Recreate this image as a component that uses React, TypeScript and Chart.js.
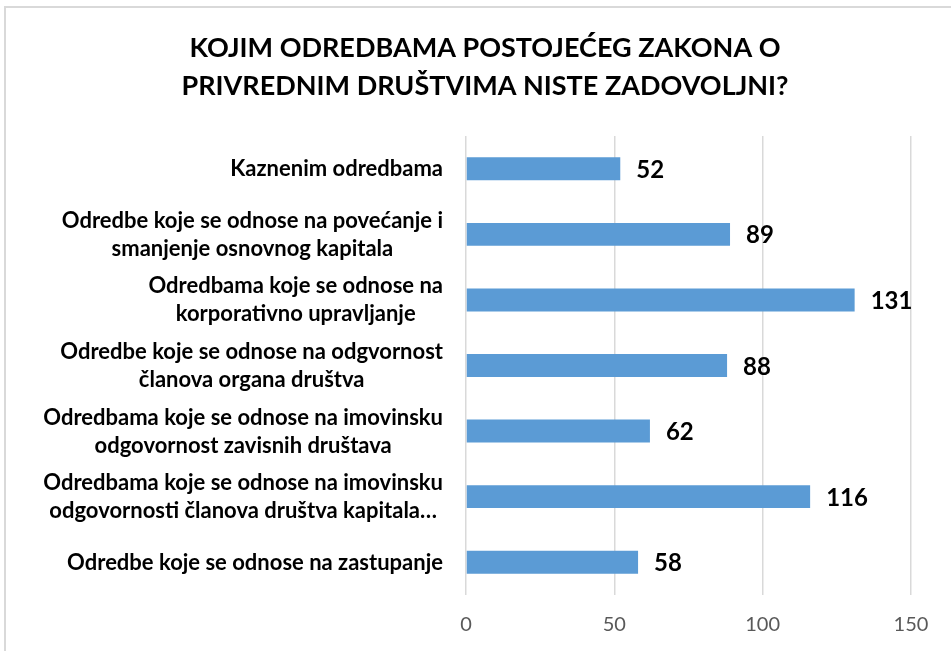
import React, { useEffect, useRef } from "react";
import { Chart, registerables } from "chart.js";

Chart.register(...registerables);

const titleLines: string[] = [
  "KOJIM ODREDBAMA POSTOJEĆEG ZAKONA O",
  "PRIVREDNIM DRUŠTVIMA NISTE ZADOVOLJNI?",
];

const categories: string[][] = [
  ["Kaznenim odredbama"],
  ["Odredbe koje se odnose na povećanje i", "smanjenje osnovnog kapitala"],
  ["Odredbama koje se odnose na", "korporativno upravljanje"],
  ["Odredbe koje se odnose na odgvornost", "članova organa društva"],
  ["Odredbama koje se odnose na imovinsku", "odgovornost zavisnih društava"],
  ["Odredbama koje se odnose na imovinsku", "odgovornosti članova društva kapitala…"],
  ["Odredbe koje se odnose na zastupanje"],
];

const values: number[] = [52, 89, 131, 88, 62, 116, 58];

const xTicks: number[] = [0, 50, 100, 150];

const FONT = "Lato, 'Open Sans', sans-serif";

const titlePlugin = {
  id: "customTitle",
  afterDraw(chart: any) {
    const ctx = chart.ctx;
    ctx.save();
    ctx.font = `bold 27px ${FONT}`;
    ctx.fillStyle = "#000000";
    ctx.textAlign = "center";
    ctx.textBaseline = "alphabetic";
    titleLines.forEach((line, i) => {
      ctx.fillText(line, 485, 57 + i * 38.3);
    });
    ctx.restore();
  },
};

const categoryLabelPlugin = {
  id: "categoryLabels",
  afterDraw(chart: any) {
    const ctx = chart.ctx;
    const yScale = chart.scales.y;
    const right = chart.chartArea.left - 23;
    const lineH = 28;
    ctx.save();
    ctx.font = `bold 22px ${FONT}`;
    ctx.fillStyle = "#000000";
    ctx.textAlign = "center";
    ctx.textBaseline = "alphabetic";
    categories.forEach((lines, i) => {
      const cy = yScale.getPixelForValue(i);
      const w = Math.max(...lines.map((l) => ctx.measureText(l).width));
      const cx = right - w / 2;
      lines.forEach((l, j) => {
        ctx.fillText(l, cx, cy + 7.5 + (j - (lines.length - 1) / 2) * lineH);
      });
    });
    ctx.restore();
  },
};

const valueLabelPlugin = {
  id: "valueLabels",
  afterDatasetsDraw(chart: any) {
    const ctx = chart.ctx;
    const meta = chart.getDatasetMeta(0);
    ctx.save();
    ctx.font = `bold 24px ${FONT}`;
    ctx.fillStyle = "#000000";
    ctx.textAlign = "left";
    ctx.textBaseline = "alphabetic";
    meta.data.forEach((bar: any, i: number) => {
      ctx.fillText(String(values[i]), bar.x + 16, bar.y + 9);
    });
    ctx.restore();
  },
};

export default function App() {
  const canvasRef = useRef<HTMLCanvasElement | null>(null);

  useEffect(() => {
    let chart: Chart | null = null;
    let cancelled = false;
    const make = () => {
      if (cancelled || !canvasRef.current) return;
      chart = new Chart(canvasRef.current, {
        type: "bar",
        data: {
          labels: categories.map((c) => c.join(" ")),
          datasets: [
            {
              data: values,
              backgroundColor: "#5b9bd5",
              borderWidth: 0,
              barPercentage: 0.35,
              categoryPercentage: 1,
            },
          ],
        },
        options: {
          indexAxis: "y",
          responsive: false,
          animation: false,
          devicePixelRatio: 1,
          layout: { padding: { left: 466, right: 40, top: 136, bottom: 14 } },
          plugins: {
            legend: { display: false },
            title: { display: false },
            tooltip: { enabled: false },
          },
          scales: {
            y: {
              display: false,
            },
            x: {
              min: xTicks[0],
              max: xTicks[xTicks.length - 1],
              afterBuildTicks: (scale: any) => {
                scale.ticks = xTicks.map((v) => ({ value: v }));
              },
              afterFit: (scale: any) => {
                scale.height = 42;
              },
              grid: {
                color: "#d9d9d9",
                lineWidth: 1.5,
                drawTicks: false,
              },
              border: { display: false },
              ticks: {
                color: "#595959",
                font: { family: FONT, size: 20 },
                padding: 18,
              },
            },
          },
        },
        plugins: [titlePlugin, categoryLabelPlugin, valueLabelPlugin],
      });
    };
    const fontsReady = (document as any).fonts
      ? Promise.all([
          (document as any).fonts.load(`bold 26px Lato`),
          (document as any).fonts.load(`20px Lato`),
        ]).catch(() => null)
      : Promise.resolve(null);
    fontsReady.then(make);
    return () => {
      cancelled = true;
      if (chart) chart.destroy();
    };
  }, []);

  return (
    <div
      style={{
        position: "fixed",
        left: 0,
        top: 0,
        width: 951,
        height: 651,
        overflow: "hidden",
        background: "#ffffff",
      }}
    >
      <div
        style={{
          position: "absolute",
          left: 4,
          top: 6,
          width: 1000,
          height: 700,
          border: "2px solid #d9d9d9",
        }}
      />
      <canvas
        ref={canvasRef}
        width={951}
        height={651}
        style={{ position: "absolute", left: 0, top: 0, display: "block" }}
      />
    </div>
  );
}
